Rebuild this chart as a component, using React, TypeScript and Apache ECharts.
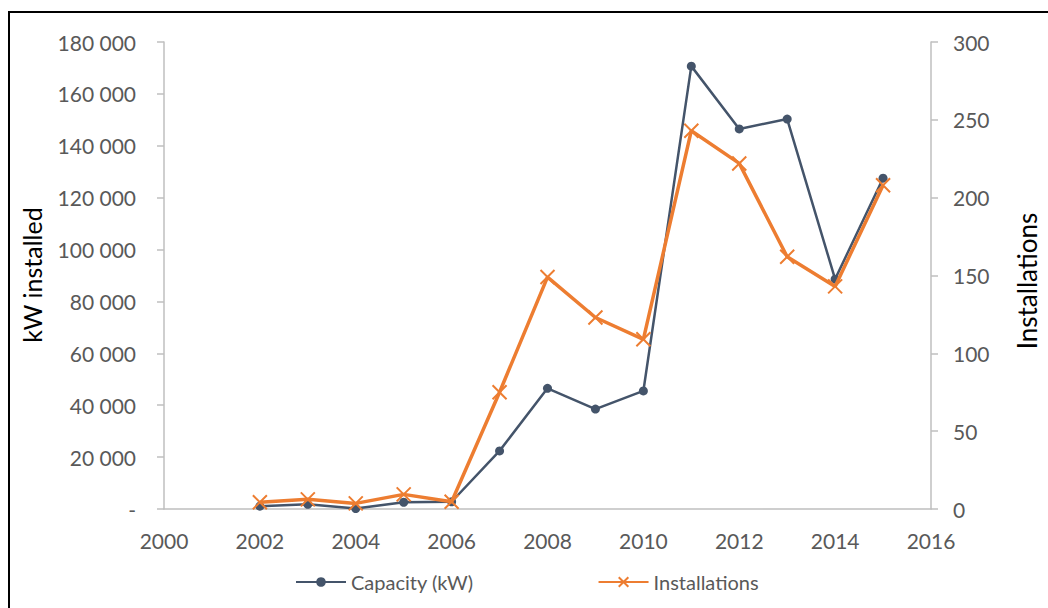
import React, { useEffect, useRef } from "react";
import * as echarts from "echarts";

const years = [2002, 2003, 2004, 2005, 2006, 2007, 2008, 2009, 2010, 2011, 2012, 2013, 2014, 2015];
const capacityKW = [1100, 1800, 200, 2600, 2800, 22400, 46500, 38500, 45500, 170700, 146500, 150300, 88600, 127500];
const installations = [4.3, 6.2, 3.6, 9.4, 4.7, 75, 149, 123, 109, 243, 222, 162, 143, 208];

const FONT = "Lato, 'Open Sans', sans-serif";
const GREY_TEXT = "#595959";
const AXIS_GREY = "#bfbfbf";

function fmtThousands(v: number): string {
  if (v === 0) return "-";
  return String(v).replace(/\B(?=(\d{3})+(?!\d))/g, " ");
}

export default function App() {
  const ref = useRef<HTMLDivElement>(null);
  useEffect(() => {
    if (!ref.current) return;
    const chart = echarts.init(ref.current, undefined, { renderer: "svg" });
    chart.setOption({
      animation: false,
      backgroundColor: "#ffffff",
      textStyle: { fontFamily: FONT },
      graphic: [
        {
          type: "rect",
          shape: { x: 9, y: 12, width: 1200, height: 800 },
          style: { fill: "none", stroke: "#000000", lineWidth: 2 },
          silent: true,
          z: -1,
        },
        {
          type: "text",
          x: 32,
          y: 275,
          rotation: Math.PI / 2,
          style: {
            text: "kW installed",
            fontSize: 25,
            fontFamily: FONT,
            fill: "#000000",
            align: "center",
            verticalAlign: "middle",
          },
          silent: true,
        },
        {
          type: "text",
          x: 1027,
          y: 281,
          rotation: Math.PI / 2,
          style: {
            text: "Installations",
            fontSize: 26,
            fontFamily: FONT,
            fill: "#000000",
            align: "center",
            verticalAlign: "middle",
          },
          silent: true,
        },
      ],
      grid: { left: 164, right: 117, top: 42, bottom: 99, containLabel: false },
      legend: {
        left: 290,
        top: 567,
        itemWidth: 50,
        itemHeight: 12,
        itemGap: 124,
        textStyle: { fontSize: 20, color: GREY_TEXT, fontFamily: FONT },
        data: ["Capacity (kW)", "Installations"],
      },
      xAxis: {
        type: "value",
        min: 2000,
        max: 2016,
        interval: 2,
        axisLine: { show: true, lineStyle: { color: AXIS_GREY, width: 1.5 } },
        axisTick: { show: false },
        splitLine: { show: false },
        axisLabel: {
          formatter: (v: number) => String(v),
          fontSize: 21,
          color: GREY_TEXT,
          margin: 21,
          fontFamily: FONT,
        },
      },
      yAxis: [
        {
          type: "value",
          min: 0,
          max: 180000,
          interval: 20000,
          axisLine: { show: true, lineStyle: { color: AXIS_GREY, width: 1.5 } },
          axisTick: { show: true, length: 7, lineStyle: { color: AXIS_GREY, width: 1.5 } },
          splitLine: { show: false },
          axisLabel: {
            formatter: fmtThousands,
            fontSize: 21,
            color: GREY_TEXT,
            margin: 28,
            fontFamily: FONT,
          },
        },
        {
          type: "value",
          min: 0,
          max: 300,
          interval: 50,
          position: "right",
          axisLine: { show: true, lineStyle: { color: AXIS_GREY, width: 1.5 } },
          axisTick: { show: true, length: 7, lineStyle: { color: AXIS_GREY, width: 1.5 } },
          splitLine: { show: false },
          axisLabel: {
            fontSize: 21,
            color: GREY_TEXT,
            margin: 22,
            fontFamily: FONT,
          },
        },
      ],
      series: [
        {
          name: "Capacity (kW)",
          type: "line",
          yAxisIndex: 0,
          data: years.map((y, i) => [y, capacityKW[i]]),
          symbol: "circle",
          symbolSize: 9,
          lineStyle: { color: "#44546a", width: 2.5 },
          itemStyle: { color: "#44546a" },
          z: 2,
        },
        {
          name: "Installations",
          type: "line",
          yAxisIndex: 1,
          data: years.map((y, i) => [y, installations[i]]),
          symbol: "path://M0,0L10,10M10,0L0,10",
          symbolSize: 14,
          lineStyle: { color: "#ed7d31", width: 3.5 },
          itemStyle: { color: "#ed7d31", borderColor: "#ed7d31", borderWidth: 2 },
          z: 3,
        },
      ],
    });
    return () => chart.dispose();
  }, []);
  return (
    <div
      ref={ref}
      style={{ position: "absolute", left: 0, top: 0, width: 1048, height: 608 }}
    />
  );
}
